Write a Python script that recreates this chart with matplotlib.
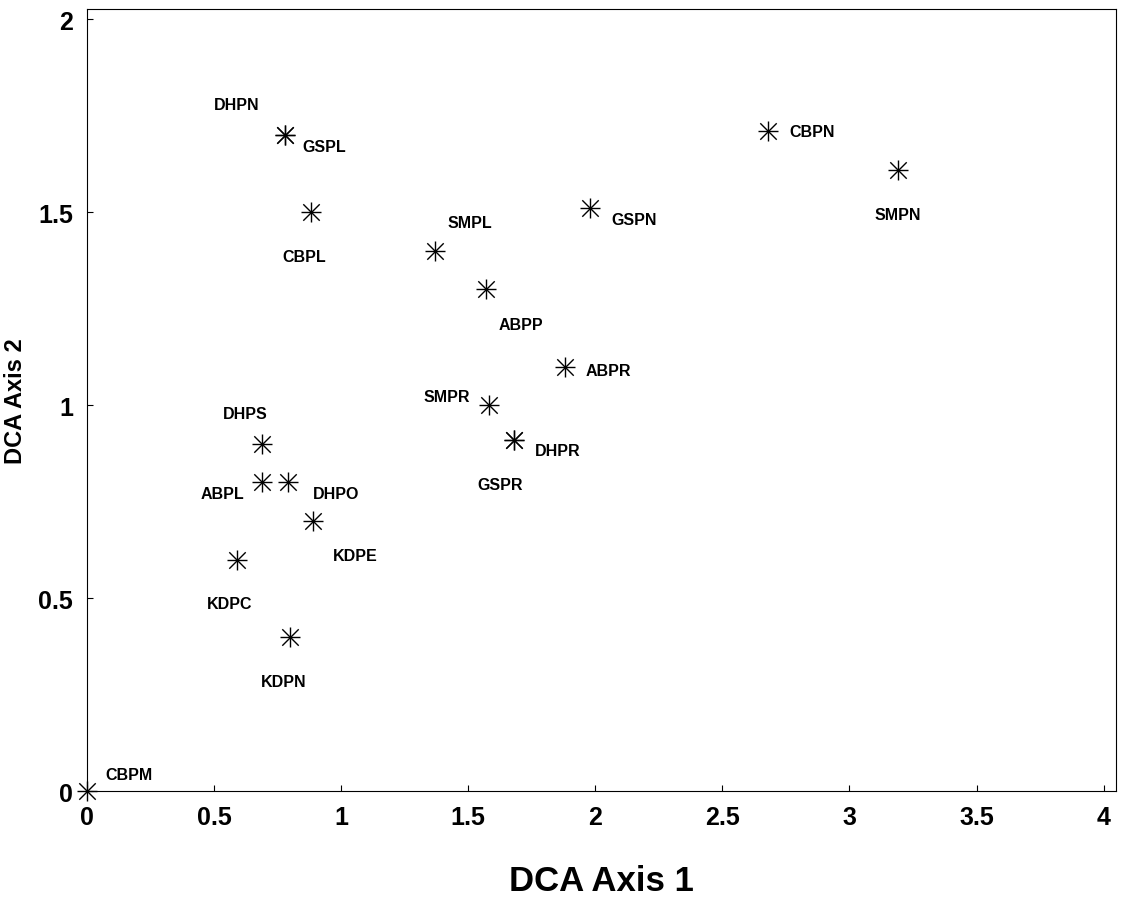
import matplotlib
matplotlib.use("Agg")
import matplotlib.pyplot as plt

plt.rcParams['font.family'] = ['Liberation Sans', 'DejaVu Sans']

names = ["DHPN", "GSPL", "CBPL", "SMPL", "ABPP", "GSPN", "CBPN", "SMPN", "ABPR", "SMPR",
         "DHPR", "GSPR", "DHPS", "ABPL", "DHPO", "KDPE", "KDPC", "KDPN", "CBPM"]
axis1 = [0.78, 0.78, 0.88, 1.37, 1.57, 1.98, 2.68, 3.19, 1.88, 1.58,
         1.68, 1.68, 0.69, 0.69, 0.79, 0.89, 0.59, 0.80, 0.0]
axis2 = [1.70, 1.70, 1.50, 1.40, 1.30, 1.51, 1.71, 1.61, 1.10, 1.00,
         0.91, 0.91, 0.90, 0.80, 0.80, 0.70, 0.60, 0.40, 0.0]
# label offsets in points (dx, dy, ha)
offsets = {
    "DHPN": (-35, 22, "center"), "GSPL": (12, -8, "left"), "CBPL": (-5, -32, "center"),
    "SMPL": (25, 20, "center"), "ABPP": (25, -25, "center"), "GSPN": (15, -8, "left"),
    "CBPN": (15, 0, "left"), "SMPN": (0, -32, "center"), "ABPR": (15, -3, "left"),
    "SMPR": (-13, 6, "right"), "DHPR": (15, -8, "left"), "GSPR": (-10, -32, "center"),
    "DHPS": (-12, 22, "center"), "ABPL": (-13, -8, "right"), "DHPO": (18, -8, "left"),
    "KDPE": (30, -25, "center"), "KDPC": (-5, -32, "center"), "KDPN": (-5, -32, "center"),
    "CBPM": (30, 12, "left"),
}

fig = plt.figure(figsize=(11.22, 9.2), dpi=100)
ax = fig.add_axes([0.0775, 0.139, 0.9175, 0.85])
ax.scatter(axis1, axis2, marker="+", s=220, color="black", linewidths=1.0, clip_on=False)
ax.scatter(axis1, axis2, marker="x", s=140, color="black", linewidths=1.0, clip_on=False)
for n, x, y in zip(names, axis1, axis2):
    dx, dy, ha = offsets[n]
    if n == "CBPM":
        ha = "center"
    ax.annotate(n, (x, y), xytext=(dx, dy), textcoords="offset points", ha=ha,
                va="center", fontsize=11.5, fontweight="bold")

ax.set_xlim(0, 4.05)
ax.set_ylim(0, 2.026)
ax.set_xticks([0, 0.5, 1, 1.5, 2, 2.5, 3, 3.5, 4])
ax.set_xticklabels(["0", "0.5", "1", "1.5", "2", "2.5", "3", "3.5", "4"])
ax.set_yticks([0, 0.5, 1, 1.5, 2])
ax.set_yticklabels(["0", "0.5", "1", "1.5", "2"])
ax.tick_params(direction="in", length=4, labelsize=18, pad=10)
for lab in ax.get_xticklabels() + ax.get_yticklabels():
    lab.set_fontweight("bold")
ax.set_xlabel("DCA Axis 1", fontsize=25, fontweight="bold", labelpad=25)
ax.set_ylabel("DCA Axis 2", fontsize=17, fontweight="bold", labelpad=8)

fig.savefig("out.png", dpi=100)
